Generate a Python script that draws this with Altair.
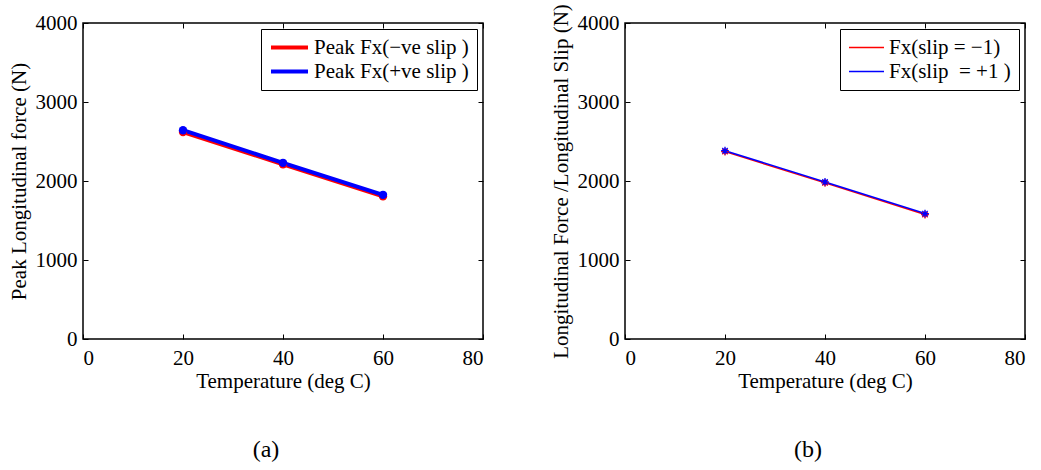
import altair as alt
import pandas as pd

# ---- data ----
temps = [20, 40, 60]
peak_neg = [2620, 2210, 1805]
peak_pos = [2643, 2230, 1825]
slip_neg = [2372, 1976, 1575]
slip_pos = [2384, 1988, 1588]

labels_a = ["Peak Fx(\u2212ve slip )", "Peak Fx(+ve slip )"]
labels_b = ["Fx(slip = \u22121)", "Fx(slip\u00a0 = +1\u00a0)"]

x_ticks = [0, 20, 40, 60, 80]
y_ticks = [0, 1000, 2000, 3000, 4000]

FONT = "Liberation Serif"
FS = 21
W, H = 400, 316

df_a = pd.DataFrame({
    "T": temps * 2,
    "F": peak_neg + peak_pos,
    "S": [labels_a[0]] * 3 + [labels_a[1]] * 3,
})
df_b = pd.DataFrame({
    "T": temps * 2,
    "F": slip_neg + slip_pos,
    "S": [labels_b[0]] * 3 + [labels_b[1]] * 3,
})

ASTERISK = "M-1,0L1,0M0,-1L0,1M-0.7,-0.7L0.7,0.7M-0.7,0.7L0.7,-0.7"


def panel(df, labels, ytitle, caption, lw, marker, msize, sym_w):
    xs = alt.Scale(domain=[0, 80], nice=False)
    ys = alt.Scale(domain=[0, 4000], nice=False)
    cs = alt.Scale(domain=labels, range=["#ff0000", "#0000ff"])

    main_x = alt.Axis(values=x_ticks, orient="bottom", ticks=False, domain=False,
                      grid=False, title="Temperature (deg C)", labelPadding=8,
                      titlePadding=2, format="d")
    main_y = alt.Axis(values=y_ticks, orient="left", ticks=False, domain=False,
                      grid=False, title=ytitle, labelPadding=6,
                      titlePadding=6, format="d")

    lines = alt.Chart(df).mark_line(strokeWidth=lw).encode(
        x=alt.X("T:Q", scale=xs, axis=main_x),
        y=alt.Y("F:Q", scale=ys, axis=main_y),
        color=alt.Color("S:N", scale=cs, sort=labels, title=None,
                        legend=alt.Legend(orient="top-right", offset=6,
                                          symbolType="stroke",
                                          symbolStrokeWidth=lw,
                                          symbolSize=sym_w * sym_w,
                                          clipHeight=21,
                                          strokeColor="black",
                                          fillColor="white",
                                          padding=8, rowPadding=2,
                                          labelOffset=4,
                                          labelFont=FONT, labelFontSize=FS,
                                          labelColor="black", labelLimit=400)),
        order=alt.Order("T:Q"),
    )

    ax_in_bottom = alt.Axis(values=x_ticks, orient="top", offset=-H, labels=False,
                            domain=False, grid=False, title=None, tickSize=5,
                            tickColor="black")
    ax_in_left = alt.Axis(values=y_ticks, orient="right", offset=-W, labels=False,
                          domain=False, grid=False, title=None, tickSize=5,
                          tickColor="black")
    if marker == "circle":
        pts = alt.Chart(df).mark_point(filled=True, size=msize, opacity=1, shape="circle")
    else:
        pts = alt.Chart(df).mark_point(filled=False, size=msize, opacity=1,
                                       shape=ASTERISK, strokeWidth=1.3)
    points = pts.encode(
        x=alt.X("T:Q", scale=xs, axis=ax_in_bottom),
        y=alt.Y("F:Q", scale=ys, axis=ax_in_left),
        color=alt.Color("S:N", scale=cs, legend=None),
    )

    ax_in_top = alt.Axis(values=x_ticks, orient="bottom", offset=-H, labels=False,
                         domain=False, grid=False, title=None, tickSize=5,
                         tickColor="black")
    ax_in_right = alt.Axis(values=y_ticks, orient="left", offset=-W, labels=False,
                           domain=False, grid=False, title=None, tickSize=5,
                           tickColor="black")
    ghost = alt.Chart(df).mark_point(opacity=0).encode(
        x=alt.X("T:Q", scale=xs, axis=ax_in_top),
        y=alt.Y("F:Q", scale=ys, axis=ax_in_right),
    )

    return alt.layer(lines, points, ghost).resolve_axis(
        x="independent", y="independent"
    ).properties(
        width=W, height=H,
        title=alt.TitleParams(caption, orient="bottom", font=FONT, fontSize=24,
                              fontWeight="normal", color="black", offset=47,
                              anchor="middle", frame="group", dx=-17),
    )


pa = panel(df_a, labels_a, "Peak Longitudinal force (N)", "(a)", 4, "circle", 70, 37)
pb = panel(df_b, labels_b, "Longitudinal Force /Longitudinal Slip (N)", "(b)", 1.5,
           "asterisk", 60, 35)

chart = alt.hconcat(pa, pb, spacing=64).resolve_scale(
    color="independent"
).resolve_legend(
    color="independent"
).properties(
    padding={"left": 7, "top": 2, "right": 5, "bottom": 0},
    background="white",
).configure_view(
    stroke="black", strokeWidth=1.5
).configure_axis(
    labelFont=FONT, labelFontSize=FS, labelColor="black",
    titleFont=FONT, titleFontSize=FS, titleColor="black", titleFontWeight="normal",
)

chart.save("out.html", embed_options={"renderer": "svg", "actions": False})
